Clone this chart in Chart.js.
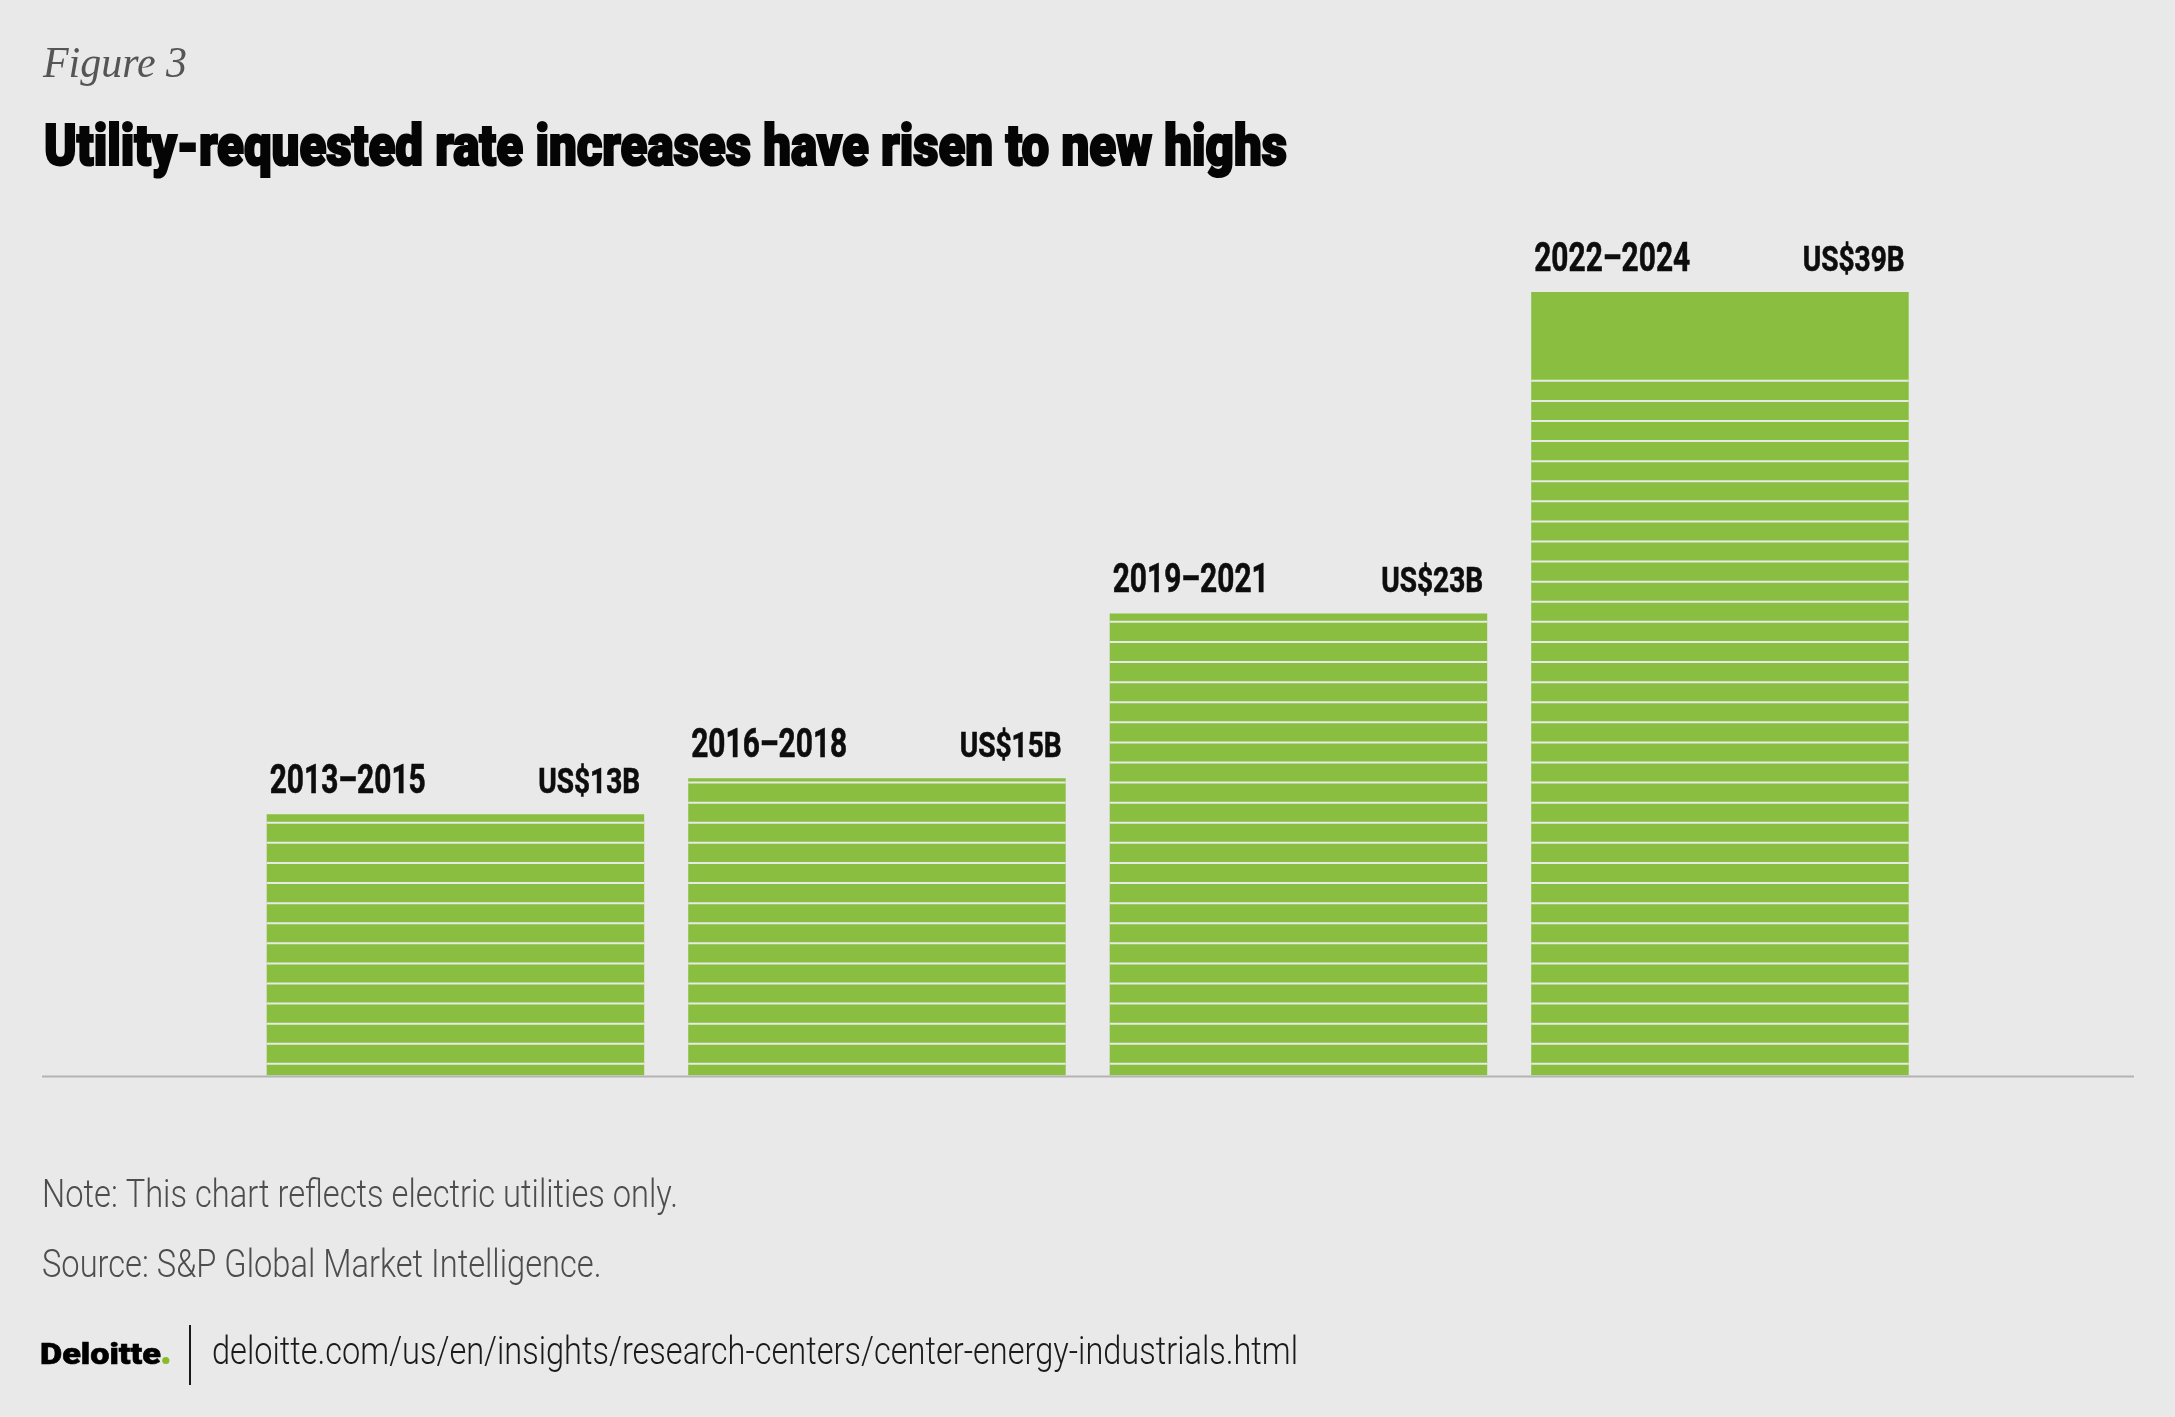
<!DOCTYPE html>
<html>
<head>
<meta charset="utf-8">
<script src="https://cdn.jsdelivr.net/npm/chart.js@4"></script>
<style>
  html, body { margin: 0; padding: 0; background: #E8E9E8; }
  canvas { display: block; }
</style>
</head>
<body>
<canvas id="c" width="2175" height="1417" style="width:2175px;height:1417px"></canvas>
<script>
// ---- data ----
const categories = ["2013–2015", "2016–2018", "2019–2021", "2022–2024"];
const values = [13, 14.8, 23, 39];            // US$ billions (bar heights)
const valueLabels = ["US$13B", "US$15B", "US$23B", "US$39B"];
const stripedTo = [13, 14.8, 23, 35];          // stripes run up to this value
const figureLabel = "Figure 3";
const titleText = "Utility-requested rate increases have risen to new highs";
const noteText = "Note: This chart reflects electric utilities only.";
const sourceText = "Source: S&P Global Market Intelligence.";
const urlText = "deloitte.com/us/en/insights/research-centers/center-energy-industrials.html";

// ---- style ----
const BG = "#E8E9E8";
const GREEN = "#8ABE41";
const STRIPE = "#E6EAE2";

function fitText(ctx, text, x, y, font, targetW, color, stroke) {
  ctx.save();
  ctx.font = font;
  ctx.fillStyle = color;
  ctx.textBaseline = "alphabetic";
  ctx.textAlign = "left";
  const w = ctx.measureText(text).width;
  const sx = targetW / w;
  ctx.translate(x, y);
  ctx.scale(sx, 1);
  ctx.fillText(text, 0, 0);
  if (stroke) { ctx.strokeStyle = color; ctx.lineWidth = stroke; ctx.strokeText(text, 0, 0); }
  ctx.restore();
}
function scaledText(ctx, text, x, y, font, sx, color, align, stroke) {
  ctx.save();
  ctx.font = font;
  ctx.fillStyle = color;
  ctx.textBaseline = "alphabetic";
  ctx.textAlign = "left";
  const w = ctx.measureText(text).width * sx;
  let x0 = align === "right" ? x - w : x;
  ctx.translate(x0, y);
  ctx.scale(sx, 1);
  ctx.fillText(text, 0, 0);
  if (stroke) { ctx.strokeStyle = color; ctx.lineWidth = stroke; ctx.strokeText(text, 0, 0); }
  ctx.restore();
}
function measure(ctx, text, font) {
  ctx.save(); ctx.font = font; const w = ctx.measureText(text).width; ctx.restore(); return w;
}

const bgPlugin = {
  id: "bg",
  beforeDraw(chart) {
    const ctx = chart.ctx;
    ctx.save();
    ctx.fillStyle = BG;
    ctx.fillRect(0, 0, chart.width, chart.height);
    ctx.restore();
  }
};

const decoPlugin = {
  id: "deco",
  afterDatasetsDraw(chart) {
    const ctx = chart.ctx;
    const y = chart.scales.y;
    const meta = chart.getDatasetMeta(0);
    // stripes
    ctx.save();
    ctx.strokeStyle = STRIPE;
    ctx.lineWidth = 2;
    meta.data.forEach((el, i) => {
      const left = el.x - el.width / 2, right = el.x + el.width / 2;
      for (let n = 0; n + 0.58 < stripedTo[i]; n++) {
        const py = y.getPixelForValue(n + 0.58);
        ctx.beginPath();
        ctx.moveTo(left, py);
        ctx.lineTo(right, py);
        ctx.stroke();
      }
    });
    ctx.restore();
    // axis line
    const y0 = y.getPixelForValue(0);
    ctx.save();
    ctx.strokeStyle = "#B4B4B4";
    ctx.lineWidth = 2;
    ctx.beginPath();
    ctx.moveTo(42, y0 + 1);
    ctx.lineTo(2134, y0 + 1);
    ctx.stroke();
    ctx.restore();
    // bar labels
    const yearFont = "bold 40px Roboto, 'Liberation Sans', sans-serif";
    const valFont = "bold 35px Roboto, 'Liberation Sans', sans-serif";
    const sxYear = 156 / measure(ctx, "2013–2015", yearFont);
    const sxVal = 102 / measure(ctx, "US$13B", valFont);
    meta.data.forEach((el, i) => {
      const left = el.x - el.width / 2, right = el.x + el.width / 2;
      const top = y.getPixelForValue(values[i]);
      scaledText(ctx, categories[i], left + 3, top - 21, yearFont, sxYear, "#0d0d0d", "left", 0.6);
      scaledText(ctx, valueLabels[i], right - 4, top - 21, valFont, sxVal, "#0d0d0d", "right", 0.6);
    });
  },
  afterDraw(chart) {
    const ctx = chart.ctx;
    fitText(ctx, figureLabel, 43, 77, "italic 44px 'Liberation Serif', serif", 144, "#555555");
    // title (heavy)
    const tFont = "900 57px Roboto, 'Liberation Sans', sans-serif";
    const tw = measure(ctx, titleText, tFont);
    scaledText(ctx, titleText, 44, 165, tFont, (1245 - 2) / tw, "#050505", "left", 2.2);
    // note & source
    const nFont = "300 39px Roboto, 'Liberation Sans', sans-serif";
    const sxN = 636 / measure(ctx, noteText, nFont);
    scaledText(ctx, noteText, 42, 1207, nFont, sxN, "#4D4D4D", "left");
    scaledText(ctx, sourceText, 42, 1277, nFont, sxN, "#4D4D4D", "left");
    // footer
    fitText(ctx, "Deloitte", 40, 1364, "900 30px Roboto, 'Liberation Sans', sans-serif", 121, "#000000", 0.6);
    ctx.save();
    ctx.fillStyle = "#86BC25";
    ctx.beginPath();
    ctx.arc(165.8, 1360.5, 3.6, 0, Math.PI * 2);
    ctx.fill();
    ctx.fillStyle = "#1a1a1a";
    ctx.fillRect(189, 1325, 2, 60);
    ctx.restore();
    fitText(ctx, urlText, 212, 1364, "300 38px Roboto, 'Liberation Sans', sans-serif", 1086, "#1a1a1a");
  }
};

const unitPx = 20.09;
const yMax = 45;
const baseY = 1075.5;
new Chart(document.getElementById("c"), {
  type: "bar",
  data: {
    labels: categories,
    datasets: [{
      data: values,
      backgroundColor: GREEN,
      borderWidth: 0,
      categoryPercentage: 1,
      barPercentage: 0.8956
    }]
  },
  options: {
    responsive: false,
    animation: false,
    devicePixelRatio: 1,
    layout: {
      padding: { left: 244.7, right: 244.3, top: baseY - yMax * unitPx, bottom: 1417 - baseY }
    },
    plugins: { legend: { display: false }, tooltip: { enabled: false } },
    scales: {
      x: { display: false, offset: true },
      y: { display: false, min: 0, max: yMax }
    }
  },
  plugins: [bgPlugin, decoPlugin]
});
</script>
</body>
</html>
